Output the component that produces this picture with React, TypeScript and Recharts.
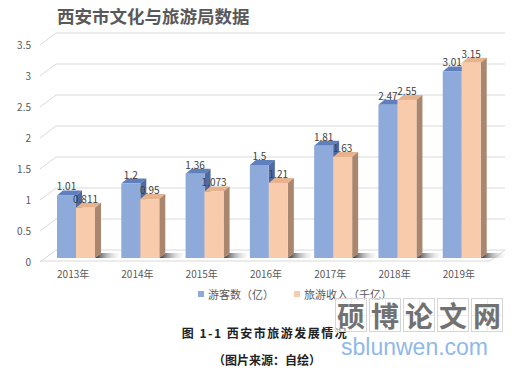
import { BarChart, Bar, XAxis, YAxis, CartesianGrid, LabelList } from 'recharts';

const years = ['2013年', '2014年', '2015年', '2016年', '2017年', '2018年', '2019年'];
const visitors = [1.01, 1.2, 1.36, 1.5, 1.81, 2.47, 3.01];
const revenue = [0.811, 0.95, 1.073, 1.21, 1.63, 2.55, 3.15];
const yTicks = [0, 0.5, 1, 1.5, 2, 2.5, 3, 3.5];
const seriesNames = ['游客数（亿）', '旅游收入（千亿）'];

const data = years.map((year, i) => ({ year, visitors: visitors[i], revenue: revenue[i] }));

const FONT = '"Noto Sans CJK SC", "Noto Sans", sans-serif';
const DX = 6;
const DY = 5;
const BLUE = { front: '#8eaadb', top: '#5f7fbd', side: '#4d6aa3' };
const PEACH = { front: '#f8cbad', top: '#e7b38f', side: '#a9866d' };

function Bar3D(props: any) {
  const { x, y, width, height, colors, shadow } = props;
  if (height == null || width == null) return null;
  const b = y + height;
  const r = x + width;
  return (
    <g>
      {shadow && (
        <polygon
          points={`${r},${b} ${r + DX},${b - DY} ${r + DX + 22},${b - DY} ${r + 22},${b}`}
          fill="url(#floorShadow)"
        />
      )}
      <polygon points={`${x},${y} ${x + DX},${y - DY} ${r + DX},${y - DY} ${r},${y}`} fill={colors.top} />
      <polygon points={`${r},${y} ${r + DX},${y - DY} ${r + DX},${b - DY} ${r},${b}`} fill={colors.side} />
      <rect x={x} y={y} width={width} height={height} fill={colors.front} />
    </g>
  );
}

function YTick({ x, y, payload }: any) {
  return (
    <g>
      <line x1={x - 4} y1={y + 4} x2={x + 12} y2={y - 8} stroke="#d9d9d9" />
      <text x={x - 13} y={y + 7.5} textAnchor="end" fontSize={10} fill="#595959" fontFamily={FONT}>
        {payload.value}
      </text>
    </g>
  );
}

function XTick({ x, y, payload }: any) {
  return (
    <text x={x - 3} y={y + 20} textAnchor="middle" fontSize={10} fill="#595959" fontFamily={FONT}>
      {payload.value}
    </text>
  );
}

function GridLine(props: any) {
  const { x1, y1, x2, y2 } = props;
  const isFloor = Math.abs(y1 - (props.y + props.height)) < 1;
  return (
    <g key={props.key}>
      <line x1={x1 + 12} y1={y1 - 8} x2={x2 + 11} y2={y2 - 8} stroke="#d9d9d9" />
      {isFloor && <line x1={x1 - 4} y1={y1 + 3} x2={x2 - 4} y2={y2 + 3} stroke="#d9d9d9" />}
      {isFloor && <line x1={x2 - 4} y1={y1 + 3} x2={x2 + 11} y2={y2 - 8} stroke="#d9d9d9" />}
    </g>
  );
}

const boxChars = ['硕', '博', '论', '文', '网'];

export default function App() {
  return (
    <div style={{ position: 'absolute', left: 0, top: 0, width: 523, height: 368, background: '#fff', fontFamily: FONT }}>
      <div style={{ position: 'absolute', left: 57, top: 3, fontSize: 17.5, fontWeight: 'bold', color: '#595959', whiteSpace: 'nowrap' }}>
        西安市文化与旅游局数据
      </div>
      <div style={{ position: 'absolute', left: 0, top: 0 }}>
        <BarChart width={523} height={300} data={data} margin={{ top: 41, right: 29, bottom: 12, left: 0 }} barGap={0} barSize={19}>
          <defs>
            <linearGradient id="floorShadow" x1="0" y1="0" x2="1" y2="0">
              <stop offset="0%" stopColor="#2e2e2e" />
              <stop offset="100%" stopColor="#ffffff" stopOpacity={0} />
            </linearGradient>
          </defs>
          <CartesianGrid vertical={false} horizontal={GridLine as any} />
          <XAxis dataKey="year" axisLine={false} tickLine={false} tickSize={0} tickMargin={0} height={30} tick={<XTick />} />
          <YAxis
            domain={[0, 3.5]}
            ticks={yTicks}
            axisLine={false}
            tickLine={false}
            tickSize={0}
            tickMargin={0}
            width={44}
            tick={<YTick />}
          />
          <Bar dataKey="visitors" isAnimationActive={false} shape={(p: any) => <Bar3D {...p} colors={BLUE} />}>
            <LabelList dataKey="visitors" position="top" offset={5} fontSize={10} fill="#404040" fontFamily={FONT} />
          </Bar>
          <Bar dataKey="revenue" isAnimationActive={false} shape={(p: any) => <Bar3D {...p} colors={PEACH} shadow />}>
            <LabelList dataKey="revenue" position="top" offset={5} fontSize={10} fill="#404040" fontFamily={FONT} />
          </Bar>
        </BarChart>
      </div>
      <div style={{ position: 'absolute', left: 198, top: 286, display: 'flex', alignItems: 'center', fontSize: 11, color: '#595959', whiteSpace: 'nowrap' }}>
        <span style={{ width: 6, height: 6, background: BLUE.front, marginRight: 4 }} />
        <span style={{ marginRight: 20 }}>{seriesNames[0]}</span>
        <span style={{ width: 6, height: 6, background: PEACH.front, marginRight: 4 }} />
        <span>{seriesNames[1]}</span>
      </div>
      <div style={{ position: 'absolute', left: 0, width: 530, top: 324, textAlign: 'center', fontSize: 12, fontWeight: 'bold', color: '#222', letterSpacing: 1.5, whiteSpace: 'pre' }}>
        图 1-1 西安市旅游发展情况
      </div>
      <div style={{ position: 'absolute', left: 0, width: 534, top: 351, textAlign: 'center', fontSize: 12, fontWeight: 'bold', color: '#222' }}>
        （图片来源：自绘）
      </div>
      <div style={{ position: 'absolute', left: 335, top: 298, display: 'flex' }}>
        {boxChars.map((c) => (
          <div
            key={c}
            style={{
              width: 32,
              height: 34,
              marginRight: 2,
              border: '1px solid #d6d6d6',
              boxSizing: 'border-box',
              display: 'flex',
              alignItems: 'center',
              justifyContent: 'center',
              fontSize: 28,
              fontWeight: 'bold',
              color: '#727272',
              background:
                'linear-gradient(#ececec,#ececec) center/1px 100% no-repeat, linear-gradient(#ececec,#ececec) center/100% 1px no-repeat, rgba(255,255,255,0.6)',
            }}
          >
            {c}
          </div>
        ))}
      </div>
      <div style={{ position: 'absolute', left: 341, top: 334, fontSize: 23, color: '#8fb9ea', fontFamily: '"Liberation Sans", Arial, sans-serif', whiteSpace: 'nowrap' }}>
        sblunwen.com
      </div>
    </div>
  );
}
